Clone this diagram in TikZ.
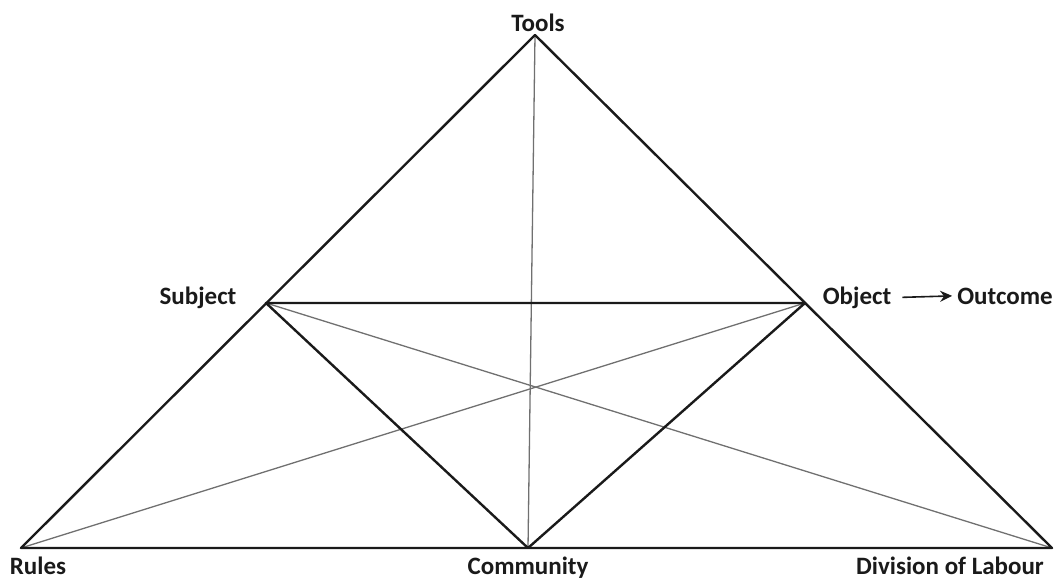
\documentclass[tikz,border=0pt]{standalone}
\usepackage{fontspec}
\setmainfont{Carlito}
\usepackage{tikz}
\usetikzlibrary{positioning,arrows.meta}
\definecolor{ink}{HTML}{1A1A1A}
\definecolor{faint}{HTML}{707070}
\tikzset{
  side/.style={draw=ink, line width=2.4pt, line cap=round, line join=round},
  cross/.style={draw=faint, line width=1.3pt, line cap=round},
  lbl/.style={font=\bfseries\fontsize{25}{30}\selectfont, text=ink, inner sep=0pt, anchor=base},
  arr/.style={-{Stealth[length=12pt,width=11pt]}, line width=1.6pt, draw=ink},
}

\begin{document}
\begin{tikzpicture}[x=1pt,y=-1pt]
  \useasboundingbox (0,0) rectangle (1059,580);
  % corners of the triangle
  \coordinate (tools) at (535,35);
  \coordinate (subj)  at (266,303);
  \coordinate (obj)   at (805,303);
  \coordinate (rules) at (21,548);
  \coordinate (comm)  at (528,548);
  \coordinate (dol)   at (1052,548);
  % thin cross lines
  \draw[cross] (tools) -- (comm);
  \draw[cross] (subj) -- (dol);
  \draw[cross] (obj) -- (rules);
  % outer and inner triangle
  \draw[side] (tools) -- (rules) -- (dol) -- cycle;
  \draw[side] (subj) -- (obj) -- (comm) -- cycle;
  % labels
  \node[lbl] (toolsLbl) at (538,32)  {Tools};
  \node[lbl] (subjLbl)  at (198,304) {Subject};
  \node[lbl] (objLbl)   at (857,304) {Object};
  \node[lbl] (outLbl)   at (1005,304) {Outcome};
  \node[lbl] (rulesLbl) at (38,574)  {Rules};
  \node[lbl] (commLbl)  at (528,574) {Community};
  \node[lbl] (dolLbl)   at (950,574) {Division of Labour};
  \draw[arr] ([xshift=11pt]objLbl.east) -- ([xshift=-5pt]outLbl.west);
\end{tikzpicture}
\end{document}
